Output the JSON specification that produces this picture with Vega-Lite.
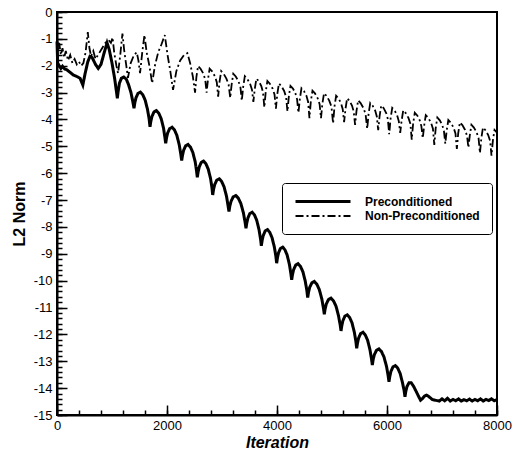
{
"$schema": "https://vega.github.io/schema/vega-lite/v6.json",
"width": 440, "height": 403,
"autosize": {"type": "none"},
"padding": {"left": 57, "top": 12, "right": 18, "bottom": 39},
"background": "white",
"config": {
 "view": {"stroke": "black", "strokeWidth": 2},
 "axis": {"domainColor": "black", "domainWidth": 2, "tickColor": "black", "tickWidth": 1.5, "grid": false, "labelFont": "Liberation Sans", "labelFontSize": 13, "labelColor": "black", "titleFont": "Liberation Sans", "titleFontSize": 16, "titleFontWeight": "bold", "titleColor": "black", "labelFlush": false, "labelOverlap": false},
 "legend": {"strokeColor": "black", "fillColor": "white", "padding": 12, "cornerRadius": 3, "symbolType": "M-1,0H10", "symbolSize": 100, "symbolStrokeColor": "black", "symbolFillColor": "transparent", "labelFont": "Liberation Sans", "labelFontWeight": "bold", "labelFontSize": 12, "labelColor": "black", "labelOffset": 58, "rowPadding": 2}
},
"data": {"values": [
{"iteration":0,"l2norm":-1.1,"series":"Preconditioned"},
{"iteration":12,"l2norm":-1.9,"series":"Preconditioned"},
{"iteration":40,"l2norm":-2.0,"series":"Preconditioned"},
{"iteration":70,"l2norm":-2.1,"series":"Preconditioned"},
{"iteration":100,"l2norm":-2.02,"series":"Preconditioned"},
{"iteration":140,"l2norm":-2.12,"series":"Preconditioned"},
{"iteration":180,"l2norm":-2.15,"series":"Preconditioned"},
{"iteration":240,"l2norm":-2.25,"series":"Preconditioned"},
{"iteration":300,"l2norm":-2.35,"series":"Preconditioned"},
{"iteration":360,"l2norm":-2.4,"series":"Preconditioned"},
{"iteration":420,"l2norm":-2.47,"series":"Preconditioned"},
{"iteration":470,"l2norm":-2.72,"series":"Preconditioned"},
{"iteration":510,"l2norm":-2.3,"series":"Preconditioned"},
{"iteration":560,"l2norm":-1.85,"series":"Preconditioned"},
{"iteration":600,"l2norm":-1.65,"series":"Preconditioned"},
{"iteration":640,"l2norm":-1.7,"series":"Preconditioned"},
{"iteration":700,"l2norm":-1.95,"series":"Preconditioned"},
{"iteration":750,"l2norm":-2.1,"series":"Preconditioned"},
{"iteration":800,"l2norm":-1.95,"series":"Preconditioned"},
{"iteration":860,"l2norm":-1.5,"series":"Preconditioned"},
{"iteration":910,"l2norm":-1.15,"series":"Preconditioned"},
{"iteration":950,"l2norm":-1.4,"series":"Preconditioned"},
{"iteration":1000,"l2norm":-1.9,"series":"Preconditioned"},
{"iteration":1050,"l2norm":-2.5,"series":"Preconditioned"},
{"iteration":1097,"l2norm":-3.21,"series":"Preconditioned"},
{"iteration":1112,"l2norm":-2.95,"series":"Preconditioned"},
{"iteration":1135,"l2norm":-2.65,"series":"Preconditioned"},
{"iteration":1170,"l2norm":-2.47,"series":"Preconditioned"},
{"iteration":1215,"l2norm":-2.42,"series":"Preconditioned"},
{"iteration":1260,"l2norm":-2.5,"series":"Preconditioned"},
{"iteration":1300,"l2norm":-2.7,"series":"Preconditioned"},
{"iteration":1345,"l2norm":-3.0,"series":"Preconditioned"},
{"iteration":1375,"l2norm":-3.3,"series":"Preconditioned"},
{"iteration":1400,"l2norm":-3.58,"series":"Preconditioned"},
{"iteration":1415,"l2norm":-3.38,"series":"Preconditioned"},
{"iteration":1435,"l2norm":-3.2,"series":"Preconditioned"},
{"iteration":1472,"l2norm":-3.03,"series":"Preconditioned"},
{"iteration":1516,"l2norm":-2.98,"series":"Preconditioned"},
{"iteration":1560,"l2norm":-3.08,"series":"Preconditioned"},
{"iteration":1603,"l2norm":-3.28,"series":"Preconditioned"},
{"iteration":1646,"l2norm":-3.63,"series":"Preconditioned"},
{"iteration":1675,"l2norm":-3.98,"series":"Preconditioned"},
{"iteration":1691,"l2norm":-4.27,"series":"Preconditioned"},
{"iteration":1706,"l2norm":-4.07,"series":"Preconditioned"},
{"iteration":1726,"l2norm":-3.89,"series":"Preconditioned"},
{"iteration":1763,"l2norm":-3.72,"series":"Preconditioned"},
{"iteration":1807,"l2norm":-3.67,"series":"Preconditioned"},
{"iteration":1851,"l2norm":-3.77,"series":"Preconditioned"},
{"iteration":1894,"l2norm":-3.97,"series":"Preconditioned"},
{"iteration":1937,"l2norm":-4.32,"series":"Preconditioned"},
{"iteration":1962,"l2norm":-4.67,"series":"Preconditioned"},
{"iteration":1976,"l2norm":-4.89,"series":"Preconditioned"},
{"iteration":1991,"l2norm":-4.69,"series":"Preconditioned"},
{"iteration":2011,"l2norm":-4.51,"series":"Preconditioned"},
{"iteration":2048,"l2norm":-4.34,"series":"Preconditioned"},
{"iteration":2092,"l2norm":-4.29,"series":"Preconditioned"},
{"iteration":2136,"l2norm":-4.39,"series":"Preconditioned"},
{"iteration":2179,"l2norm":-4.59,"series":"Preconditioned"},
{"iteration":2222,"l2norm":-4.94,"series":"Preconditioned"},
{"iteration":2251,"l2norm":-5.29,"series":"Preconditioned"},
{"iteration":2267,"l2norm":-5.53,"series":"Preconditioned"},
{"iteration":2282,"l2norm":-5.33,"series":"Preconditioned"},
{"iteration":2302,"l2norm":-5.15,"series":"Preconditioned"},
{"iteration":2339,"l2norm":-4.98,"series":"Preconditioned"},
{"iteration":2383,"l2norm":-4.93,"series":"Preconditioned"},
{"iteration":2427,"l2norm":-5.03,"series":"Preconditioned"},
{"iteration":2470,"l2norm":-5.23,"series":"Preconditioned"},
{"iteration":2513,"l2norm":-5.58,"series":"Preconditioned"},
{"iteration":2538,"l2norm":-5.93,"series":"Preconditioned"},
{"iteration":2551,"l2norm":-6.15,"series":"Preconditioned"},
{"iteration":2566,"l2norm":-5.95,"series":"Preconditioned"},
{"iteration":2586,"l2norm":-5.77,"series":"Preconditioned"},
{"iteration":2622,"l2norm":-5.6,"series":"Preconditioned"},
{"iteration":2665,"l2norm":-5.55,"series":"Preconditioned"},
{"iteration":2708,"l2norm":-5.65,"series":"Preconditioned"},
{"iteration":2750,"l2norm":-5.85,"series":"Preconditioned"},
{"iteration":2792,"l2norm":-6.2,"series":"Preconditioned"},
{"iteration":2818,"l2norm":-6.55,"series":"Preconditioned"},
{"iteration":2831,"l2norm":-6.81,"series":"Preconditioned"},
{"iteration":2846,"l2norm":-6.61,"series":"Preconditioned"},
{"iteration":2866,"l2norm":-6.43,"series":"Preconditioned"},
{"iteration":2905,"l2norm":-6.26,"series":"Preconditioned"},
{"iteration":2950,"l2norm":-6.21,"series":"Preconditioned"},
{"iteration":2994,"l2norm":-6.31,"series":"Preconditioned"},
{"iteration":3038,"l2norm":-6.51,"series":"Preconditioned"},
{"iteration":3082,"l2norm":-6.86,"series":"Preconditioned"},
{"iteration":3110,"l2norm":-7.21,"series":"Preconditioned"},
{"iteration":3127,"l2norm":-7.43,"series":"Preconditioned"},
{"iteration":3142,"l2norm":-7.23,"series":"Preconditioned"},
{"iteration":3164,"l2norm":-7.05,"series":"Preconditioned"},
{"iteration":3204,"l2norm":-6.88,"series":"Preconditioned"},
{"iteration":3251,"l2norm":-6.83,"series":"Preconditioned"},
{"iteration":3297,"l2norm":-6.93,"series":"Preconditioned"},
{"iteration":3343,"l2norm":-7.13,"series":"Preconditioned"},
{"iteration":3390,"l2norm":-7.48,"series":"Preconditioned"},
{"iteration":3420,"l2norm":-7.83,"series":"Preconditioned"},
{"iteration":3436,"l2norm":-8.05,"series":"Preconditioned"},
{"iteration":3451,"l2norm":-7.85,"series":"Preconditioned"},
{"iteration":3471,"l2norm":-7.67,"series":"Preconditioned"},
{"iteration":3506,"l2norm":-7.5,"series":"Preconditioned"},
{"iteration":3548,"l2norm":-7.45,"series":"Preconditioned"},
{"iteration":3590,"l2norm":-7.55,"series":"Preconditioned"},
{"iteration":3631,"l2norm":-7.75,"series":"Preconditioned"},
{"iteration":3673,"l2norm":-8.1,"series":"Preconditioned"},
{"iteration":3701,"l2norm":-8.45,"series":"Preconditioned"},
{"iteration":3715,"l2norm":-8.7,"series":"Preconditioned"},
{"iteration":3730,"l2norm":-8.5,"series":"Preconditioned"},
{"iteration":3750,"l2norm":-8.32,"series":"Preconditioned"},
{"iteration":3785,"l2norm":-8.15,"series":"Preconditioned"},
{"iteration":3827,"l2norm":-8.1,"series":"Preconditioned"},
{"iteration":3868,"l2norm":-8.2,"series":"Preconditioned"},
{"iteration":3910,"l2norm":-8.4,"series":"Preconditioned"},
{"iteration":3952,"l2norm":-8.75,"series":"Preconditioned"},
{"iteration":3980,"l2norm":-9.1,"series":"Preconditioned"},
{"iteration":3994,"l2norm":-9.35,"series":"Preconditioned"},
{"iteration":4008,"l2norm":-9.15,"series":"Preconditioned"},
{"iteration":4027,"l2norm":-8.97,"series":"Preconditioned"},
{"iteration":4062,"l2norm":-8.8,"series":"Preconditioned"},
{"iteration":4103,"l2norm":-8.75,"series":"Preconditioned"},
{"iteration":4144,"l2norm":-8.85,"series":"Preconditioned"},
{"iteration":4185,"l2norm":-9.05,"series":"Preconditioned"},
{"iteration":4226,"l2norm":-9.4,"series":"Preconditioned"},
{"iteration":4253,"l2norm":-9.75,"series":"Preconditioned"},
{"iteration":4267,"l2norm":-9.97,"series":"Preconditioned"},
{"iteration":4282,"l2norm":-9.77,"series":"Preconditioned"},
{"iteration":4302,"l2norm":-9.59,"series":"Preconditioned"},
{"iteration":4340,"l2norm":-9.42,"series":"Preconditioned"},
{"iteration":4383,"l2norm":-9.37,"series":"Preconditioned"},
{"iteration":4427,"l2norm":-9.47,"series":"Preconditioned"},
{"iteration":4471,"l2norm":-9.67,"series":"Preconditioned"},
{"iteration":4514,"l2norm":-10.02,"series":"Preconditioned"},
{"iteration":4543,"l2norm":-10.37,"series":"Preconditioned"},
{"iteration":4558,"l2norm":-10.63,"series":"Preconditioned"},
{"iteration":4573,"l2norm":-10.43,"series":"Preconditioned"},
{"iteration":4594,"l2norm":-10.25,"series":"Preconditioned"},
{"iteration":4634,"l2norm":-10.08,"series":"Preconditioned"},
{"iteration":4679,"l2norm":-10.03,"series":"Preconditioned"},
{"iteration":4724,"l2norm":-10.13,"series":"Preconditioned"},
{"iteration":4769,"l2norm":-10.33,"series":"Preconditioned"},
{"iteration":4815,"l2norm":-10.68,"series":"Preconditioned"},
{"iteration":4845,"l2norm":-11.03,"series":"Preconditioned"},
{"iteration":4860,"l2norm":-11.25,"series":"Preconditioned"},
{"iteration":4875,"l2norm":-11.05,"series":"Preconditioned"},
{"iteration":4896,"l2norm":-10.87,"series":"Preconditioned"},
{"iteration":4936,"l2norm":-10.7,"series":"Preconditioned"},
{"iteration":4982,"l2norm":-10.65,"series":"Preconditioned"},
{"iteration":5027,"l2norm":-10.75,"series":"Preconditioned"},
{"iteration":5073,"l2norm":-10.95,"series":"Preconditioned"},
{"iteration":5118,"l2norm":-11.3,"series":"Preconditioned"},
{"iteration":5149,"l2norm":-11.65,"series":"Preconditioned"},
{"iteration":5164,"l2norm":-11.87,"series":"Preconditioned"},
{"iteration":5179,"l2norm":-11.67,"series":"Preconditioned"},
{"iteration":5198,"l2norm":-11.49,"series":"Preconditioned"},
{"iteration":5235,"l2norm":-11.32,"series":"Preconditioned"},
{"iteration":5278,"l2norm":-11.27,"series":"Preconditioned"},
{"iteration":5321,"l2norm":-11.37,"series":"Preconditioned"},
{"iteration":5364,"l2norm":-11.57,"series":"Preconditioned"},
{"iteration":5406,"l2norm":-11.92,"series":"Preconditioned"},
{"iteration":5435,"l2norm":-12.27,"series":"Preconditioned"},
{"iteration":5449,"l2norm":-12.52,"series":"Preconditioned"},
{"iteration":5464,"l2norm":-12.32,"series":"Preconditioned"},
{"iteration":5483,"l2norm":-12.14,"series":"Preconditioned"},
{"iteration":5520,"l2norm":-11.97,"series":"Preconditioned"},
{"iteration":5563,"l2norm":-11.92,"series":"Preconditioned"},
{"iteration":5605,"l2norm":-12.02,"series":"Preconditioned"},
{"iteration":5648,"l2norm":-12.22,"series":"Preconditioned"},
{"iteration":5690,"l2norm":-12.57,"series":"Preconditioned"},
{"iteration":5719,"l2norm":-12.92,"series":"Preconditioned"},
{"iteration":5733,"l2norm":-13.14,"series":"Preconditioned"},
{"iteration":5748,"l2norm":-12.94,"series":"Preconditioned"},
{"iteration":5769,"l2norm":-12.76,"series":"Preconditioned"},
{"iteration":5809,"l2norm":-12.59,"series":"Preconditioned"},
{"iteration":5854,"l2norm":-12.54,"series":"Preconditioned"},
{"iteration":5900,"l2norm":-12.64,"series":"Preconditioned"},
{"iteration":5945,"l2norm":-12.84,"series":"Preconditioned"},
{"iteration":5991,"l2norm":-13.19,"series":"Preconditioned"},
{"iteration":6021,"l2norm":-13.54,"series":"Preconditioned"},
{"iteration":6036,"l2norm":-13.76,"series":"Preconditioned"},
{"iteration":6051,"l2norm":-13.56,"series":"Preconditioned"},
{"iteration":6071,"l2norm":-13.38,"series":"Preconditioned"},
{"iteration":6109,"l2norm":-13.21,"series":"Preconditioned"},
{"iteration":6152,"l2norm":-13.16,"series":"Preconditioned"},
{"iteration":6196,"l2norm":-13.26,"series":"Preconditioned"},
{"iteration":6240,"l2norm":-13.46,"series":"Preconditioned"},
{"iteration":6283,"l2norm":-13.81,"series":"Preconditioned"},
{"iteration":6312,"l2norm":-14.1,"series":"Preconditioned"},
{"iteration":6327,"l2norm":-14.32,"series":"Preconditioned"},
{"iteration":6342,"l2norm":-14.12,"series":"Preconditioned"},
{"iteration":6362,"l2norm":-13.95,"series":"Preconditioned"},
{"iteration":6400,"l2norm":-13.8,"series":"Preconditioned"},
{"iteration":6440,"l2norm":-13.8,"series":"Preconditioned"},
{"iteration":6480,"l2norm":-13.92,"series":"Preconditioned"},
{"iteration":6530,"l2norm":-14.12,"series":"Preconditioned"},
{"iteration":6580,"l2norm":-14.33,"series":"Preconditioned"},
{"iteration":6610,"l2norm":-14.45,"series":"Preconditioned"},
{"iteration":6640,"l2norm":-14.4,"series":"Preconditioned"},
{"iteration":6680,"l2norm":-14.3,"series":"Preconditioned"},
{"iteration":6720,"l2norm":-14.26,"series":"Preconditioned"},
{"iteration":6770,"l2norm":-14.33,"series":"Preconditioned"},
{"iteration":6820,"l2norm":-14.42,"series":"Preconditioned"},
{"iteration":6880,"l2norm":-14.45,"series":"Preconditioned"},
{"iteration":6950,"l2norm":-14.48,"series":"Preconditioned"},
{"iteration":7000,"l2norm":-14.4,"series":"Preconditioned"},
{"iteration":7050,"l2norm":-14.47,"series":"Preconditioned"},
{"iteration":7100,"l2norm":-14.38,"series":"Preconditioned"},
{"iteration":7150,"l2norm":-14.48,"series":"Preconditioned"},
{"iteration":7200,"l2norm":-14.42,"series":"Preconditioned"},
{"iteration":7250,"l2norm":-14.47,"series":"Preconditioned"},
{"iteration":7300,"l2norm":-14.4,"series":"Preconditioned"},
{"iteration":7350,"l2norm":-14.48,"series":"Preconditioned"},
{"iteration":7400,"l2norm":-14.43,"series":"Preconditioned"},
{"iteration":7450,"l2norm":-14.47,"series":"Preconditioned"},
{"iteration":7500,"l2norm":-14.41,"series":"Preconditioned"},
{"iteration":7550,"l2norm":-14.48,"series":"Preconditioned"},
{"iteration":7600,"l2norm":-14.42,"series":"Preconditioned"},
{"iteration":7650,"l2norm":-14.47,"series":"Preconditioned"},
{"iteration":7700,"l2norm":-14.4,"series":"Preconditioned"},
{"iteration":7750,"l2norm":-14.48,"series":"Preconditioned"},
{"iteration":7800,"l2norm":-14.42,"series":"Preconditioned"},
{"iteration":7850,"l2norm":-14.46,"series":"Preconditioned"},
{"iteration":7900,"l2norm":-14.4,"series":"Preconditioned"},
{"iteration":7950,"l2norm":-14.47,"series":"Preconditioned"},
{"iteration":8000,"l2norm":-14.43,"series":"Preconditioned"},
{"iteration":0,"l2norm":-1.0,"series":"Non-Preconditioned"},
{"iteration":20,"l2norm":-1.4,"series":"Non-Preconditioned"},
{"iteration":40,"l2norm":-1.15,"series":"Non-Preconditioned"},
{"iteration":70,"l2norm":-1.6,"series":"Non-Preconditioned"},
{"iteration":100,"l2norm":-1.35,"series":"Non-Preconditioned"},
{"iteration":130,"l2norm":-1.7,"series":"Non-Preconditioned"},
{"iteration":160,"l2norm":-1.45,"series":"Non-Preconditioned"},
{"iteration":200,"l2norm":-1.8,"series":"Non-Preconditioned"},
{"iteration":240,"l2norm":-1.6,"series":"Non-Preconditioned"},
{"iteration":280,"l2norm":-1.9,"series":"Non-Preconditioned"},
{"iteration":320,"l2norm":-1.75,"series":"Non-Preconditioned"},
{"iteration":360,"l2norm":-1.95,"series":"Non-Preconditioned"},
{"iteration":400,"l2norm":-1.85,"series":"Non-Preconditioned"},
{"iteration":440,"l2norm":-2.0,"series":"Non-Preconditioned"},
{"iteration":480,"l2norm":-1.9,"series":"Non-Preconditioned"},
{"iteration":520,"l2norm":-1.5,"series":"Non-Preconditioned"},
{"iteration":560,"l2norm":-0.75,"series":"Non-Preconditioned"},
{"iteration":590,"l2norm":-1.35,"series":"Non-Preconditioned"},
{"iteration":620,"l2norm":-1.65,"series":"Non-Preconditioned"},
{"iteration":660,"l2norm":-1.45,"series":"Non-Preconditioned"},
{"iteration":700,"l2norm":-1.75,"series":"Non-Preconditioned"},
{"iteration":760,"l2norm":-1.55,"series":"Non-Preconditioned"},
{"iteration":820,"l2norm":-1.35,"series":"Non-Preconditioned"},
{"iteration":880,"l2norm":-1.15,"series":"Non-Preconditioned"},
{"iteration":940,"l2norm":-1.05,"series":"Non-Preconditioned"},
{"iteration":980,"l2norm":-1.15,"series":"Non-Preconditioned"},
{"iteration":1010,"l2norm":-0.95,"series":"Non-Preconditioned"},
{"iteration":1040,"l2norm":-1.5,"series":"Non-Preconditioned"},
{"iteration":1080,"l2norm":-2.0,"series":"Non-Preconditioned"},
{"iteration":1110,"l2norm":-2.28,"series":"Non-Preconditioned"},
{"iteration":1150,"l2norm":-1.6,"series":"Non-Preconditioned"},
{"iteration":1190,"l2norm":-0.8,"series":"Non-Preconditioned"},
{"iteration":1220,"l2norm":-1.4,"series":"Non-Preconditioned"},
{"iteration":1260,"l2norm":-2.0,"series":"Non-Preconditioned"},
{"iteration":1290,"l2norm":-2.45,"series":"Non-Preconditioned"},
{"iteration":1340,"l2norm":-1.9,"series":"Non-Preconditioned"},
{"iteration":1400,"l2norm":-1.6,"series":"Non-Preconditioned"},
{"iteration":1450,"l2norm":-1.5,"series":"Non-Preconditioned"},
{"iteration":1480,"l2norm":-1.8,"series":"Non-Preconditioned"},
{"iteration":1510,"l2norm":-2.28,"series":"Non-Preconditioned"},
{"iteration":1550,"l2norm":-1.5,"series":"Non-Preconditioned"},
{"iteration":1590,"l2norm":-0.86,"series":"Non-Preconditioned"},
{"iteration":1630,"l2norm":-1.5,"series":"Non-Preconditioned"},
{"iteration":1680,"l2norm":-2.0,"series":"Non-Preconditioned"},
{"iteration":1730,"l2norm":-2.65,"series":"Non-Preconditioned"},
{"iteration":1780,"l2norm":-2.0,"series":"Non-Preconditioned"},
{"iteration":1840,"l2norm":-1.5,"series":"Non-Preconditioned"},
{"iteration":1900,"l2norm":-1.2,"series":"Non-Preconditioned"},
{"iteration":1960,"l2norm":-0.86,"series":"Non-Preconditioned"},
{"iteration":2010,"l2norm":-1.6,"series":"Non-Preconditioned"},
{"iteration":2060,"l2norm":-2.2,"series":"Non-Preconditioned"},
{"iteration":2110,"l2norm":-2.9,"series":"Non-Preconditioned"},
{"iteration":2170,"l2norm":-2.2,"series":"Non-Preconditioned"},
{"iteration":2240,"l2norm":-1.8,"series":"Non-Preconditioned"},
{"iteration":2310,"l2norm":-1.6,"series":"Non-Preconditioned"},
{"iteration":2370,"l2norm":-1.53,"series":"Non-Preconditioned"},
{"iteration":2420,"l2norm":-1.9,"series":"Non-Preconditioned"},
{"iteration":2470,"l2norm":-2.4,"series":"Non-Preconditioned"},
{"iteration":2510,"l2norm":-3.0,"series":"Non-Preconditioned"},
{"iteration":2535,"l2norm":-2.41,"series":"Non-Preconditioned"},
{"iteration":2565,"l2norm":-2.01,"series":"Non-Preconditioned"},
{"iteration":2610,"l2norm":-2.11,"series":"Non-Preconditioned"},
{"iteration":2660,"l2norm":-2.29,"series":"Non-Preconditioned"},
{"iteration":2695,"l2norm":-2.51,"series":"Non-Preconditioned"},
{"iteration":2720,"l2norm":-3.0,"series":"Non-Preconditioned"},
{"iteration":2745,"l2norm":-2.51,"series":"Non-Preconditioned"},
{"iteration":2775,"l2norm":-2.11,"series":"Non-Preconditioned"},
{"iteration":2820,"l2norm":-2.21,"series":"Non-Preconditioned"},
{"iteration":2870,"l2norm":-2.39,"series":"Non-Preconditioned"},
{"iteration":2905,"l2norm":-2.61,"series":"Non-Preconditioned"},
{"iteration":2930,"l2norm":-3.15,"series":"Non-Preconditioned"},
{"iteration":2955,"l2norm":-2.6,"series":"Non-Preconditioned"},
{"iteration":2985,"l2norm":-2.2,"series":"Non-Preconditioned"},
{"iteration":3030,"l2norm":-2.3,"series":"Non-Preconditioned"},
{"iteration":3080,"l2norm":-2.48,"series":"Non-Preconditioned"},
{"iteration":3120,"l2norm":-2.7,"series":"Non-Preconditioned"},
{"iteration":3150,"l2norm":-3.2,"series":"Non-Preconditioned"},
{"iteration":3175,"l2norm":-2.7,"series":"Non-Preconditioned"},
{"iteration":3205,"l2norm":-2.3,"series":"Non-Preconditioned"},
{"iteration":3250,"l2norm":-2.4,"series":"Non-Preconditioned"},
{"iteration":3300,"l2norm":-2.58,"series":"Non-Preconditioned"},
{"iteration":3335,"l2norm":-2.8,"series":"Non-Preconditioned"},
{"iteration":3360,"l2norm":-3.3,"series":"Non-Preconditioned"},
{"iteration":3385,"l2norm":-2.79,"series":"Non-Preconditioned"},
{"iteration":3415,"l2norm":-2.39,"series":"Non-Preconditioned"},
{"iteration":3460,"l2norm":-2.49,"series":"Non-Preconditioned"},
{"iteration":3510,"l2norm":-2.67,"series":"Non-Preconditioned"},
{"iteration":3545,"l2norm":-2.89,"series":"Non-Preconditioned"},
{"iteration":3570,"l2norm":-3.35,"series":"Non-Preconditioned"},
{"iteration":3595,"l2norm":-2.88,"series":"Non-Preconditioned"},
{"iteration":3625,"l2norm":-2.48,"series":"Non-Preconditioned"},
{"iteration":3670,"l2norm":-2.58,"series":"Non-Preconditioned"},
{"iteration":3715,"l2norm":-2.76,"series":"Non-Preconditioned"},
{"iteration":3745,"l2norm":-2.98,"series":"Non-Preconditioned"},
{"iteration":3770,"l2norm":-3.55,"series":"Non-Preconditioned"},
{"iteration":3795,"l2norm":-2.97,"series":"Non-Preconditioned"},
{"iteration":3825,"l2norm":-2.57,"series":"Non-Preconditioned"},
{"iteration":3870,"l2norm":-2.67,"series":"Non-Preconditioned"},
{"iteration":3920,"l2norm":-2.85,"series":"Non-Preconditioned"},
{"iteration":3955,"l2norm":-3.07,"series":"Non-Preconditioned"},
{"iteration":3980,"l2norm":-3.6,"series":"Non-Preconditioned"},
{"iteration":4005,"l2norm":-3.06,"series":"Non-Preconditioned"},
{"iteration":4035,"l2norm":-2.66,"series":"Non-Preconditioned"},
{"iteration":4080,"l2norm":-2.76,"series":"Non-Preconditioned"},
{"iteration":4130,"l2norm":-2.94,"series":"Non-Preconditioned"},
{"iteration":4165,"l2norm":-3.16,"series":"Non-Preconditioned"},
{"iteration":4190,"l2norm":-3.7,"series":"Non-Preconditioned"},
{"iteration":4215,"l2norm":-3.15,"series":"Non-Preconditioned"},
{"iteration":4245,"l2norm":-2.75,"series":"Non-Preconditioned"},
{"iteration":4290,"l2norm":-2.85,"series":"Non-Preconditioned"},
{"iteration":4335,"l2norm":-3.03,"series":"Non-Preconditioned"},
{"iteration":4365,"l2norm":-3.25,"series":"Non-Preconditioned"},
{"iteration":4390,"l2norm":-3.75,"series":"Non-Preconditioned"},
{"iteration":4415,"l2norm":-3.24,"series":"Non-Preconditioned"},
{"iteration":4445,"l2norm":-2.84,"series":"Non-Preconditioned"},
{"iteration":4490,"l2norm":-2.94,"series":"Non-Preconditioned"},
{"iteration":4535,"l2norm":-3.12,"series":"Non-Preconditioned"},
{"iteration":4565,"l2norm":-3.34,"series":"Non-Preconditioned"},
{"iteration":4590,"l2norm":-3.95,"series":"Non-Preconditioned"},
{"iteration":4615,"l2norm":-3.33,"series":"Non-Preconditioned"},
{"iteration":4645,"l2norm":-2.93,"series":"Non-Preconditioned"},
{"iteration":4690,"l2norm":-3.03,"series":"Non-Preconditioned"},
{"iteration":4740,"l2norm":-3.21,"series":"Non-Preconditioned"},
{"iteration":4775,"l2norm":-3.43,"series":"Non-Preconditioned"},
{"iteration":4800,"l2norm":-3.95,"series":"Non-Preconditioned"},
{"iteration":4825,"l2norm":-3.42,"series":"Non-Preconditioned"},
{"iteration":4855,"l2norm":-3.02,"series":"Non-Preconditioned"},
{"iteration":4900,"l2norm":-3.12,"series":"Non-Preconditioned"},
{"iteration":4950,"l2norm":-3.3,"series":"Non-Preconditioned"},
{"iteration":4990,"l2norm":-3.52,"series":"Non-Preconditioned"},
{"iteration":5020,"l2norm":-4.15,"series":"Non-Preconditioned"},
{"iteration":5045,"l2norm":-3.52,"series":"Non-Preconditioned"},
{"iteration":5075,"l2norm":-3.12,"series":"Non-Preconditioned"},
{"iteration":5120,"l2norm":-3.22,"series":"Non-Preconditioned"},
{"iteration":5165,"l2norm":-3.4,"series":"Non-Preconditioned"},
{"iteration":5195,"l2norm":-3.62,"series":"Non-Preconditioned"},
{"iteration":5220,"l2norm":-4.1,"series":"Non-Preconditioned"},
{"iteration":5245,"l2norm":-3.61,"series":"Non-Preconditioned"},
{"iteration":5275,"l2norm":-3.21,"series":"Non-Preconditioned"},
{"iteration":5320,"l2norm":-3.31,"series":"Non-Preconditioned"},
{"iteration":5365,"l2norm":-3.49,"series":"Non-Preconditioned"},
{"iteration":5395,"l2norm":-3.71,"series":"Non-Preconditioned"},
{"iteration":5420,"l2norm":-4.2,"series":"Non-Preconditioned"},
{"iteration":5445,"l2norm":-3.69,"series":"Non-Preconditioned"},
{"iteration":5475,"l2norm":-3.29,"series":"Non-Preconditioned"},
{"iteration":5520,"l2norm":-3.39,"series":"Non-Preconditioned"},
{"iteration":5570,"l2norm":-3.57,"series":"Non-Preconditioned"},
{"iteration":5610,"l2norm":-3.79,"series":"Non-Preconditioned"},
{"iteration":5640,"l2norm":-4.35,"series":"Non-Preconditioned"},
{"iteration":5665,"l2norm":-3.79,"series":"Non-Preconditioned"},
{"iteration":5695,"l2norm":-3.39,"series":"Non-Preconditioned"},
{"iteration":5740,"l2norm":-3.49,"series":"Non-Preconditioned"},
{"iteration":5785,"l2norm":-3.67,"series":"Non-Preconditioned"},
{"iteration":5815,"l2norm":-3.89,"series":"Non-Preconditioned"},
{"iteration":5840,"l2norm":-4.4,"series":"Non-Preconditioned"},
{"iteration":5865,"l2norm":-3.88,"series":"Non-Preconditioned"},
{"iteration":5895,"l2norm":-3.48,"series":"Non-Preconditioned"},
{"iteration":5940,"l2norm":-3.58,"series":"Non-Preconditioned"},
{"iteration":5985,"l2norm":-3.76,"series":"Non-Preconditioned"},
{"iteration":6015,"l2norm":-3.98,"series":"Non-Preconditioned"},
{"iteration":6040,"l2norm":-4.55,"series":"Non-Preconditioned"},
{"iteration":6065,"l2norm":-3.97,"series":"Non-Preconditioned"},
{"iteration":6095,"l2norm":-3.57,"series":"Non-Preconditioned"},
{"iteration":6140,"l2norm":-3.67,"series":"Non-Preconditioned"},
{"iteration":6185,"l2norm":-3.85,"series":"Non-Preconditioned"},
{"iteration":6215,"l2norm":-4.07,"series":"Non-Preconditioned"},
{"iteration":6240,"l2norm":-4.5,"series":"Non-Preconditioned"},
{"iteration":6265,"l2norm":-4.06,"series":"Non-Preconditioned"},
{"iteration":6295,"l2norm":-3.66,"series":"Non-Preconditioned"},
{"iteration":6340,"l2norm":-3.76,"series":"Non-Preconditioned"},
{"iteration":6390,"l2norm":-3.94,"series":"Non-Preconditioned"},
{"iteration":6425,"l2norm":-4.16,"series":"Non-Preconditioned"},
{"iteration":6450,"l2norm":-4.75,"series":"Non-Preconditioned"},
{"iteration":6475,"l2norm":-4.15,"series":"Non-Preconditioned"},
{"iteration":6505,"l2norm":-3.75,"series":"Non-Preconditioned"},
{"iteration":6550,"l2norm":-3.85,"series":"Non-Preconditioned"},
{"iteration":6595,"l2norm":-4.03,"series":"Non-Preconditioned"},
{"iteration":6625,"l2norm":-4.25,"series":"Non-Preconditioned"},
{"iteration":6650,"l2norm":-4.7,"series":"Non-Preconditioned"},
{"iteration":6675,"l2norm":-4.24,"series":"Non-Preconditioned"},
{"iteration":6705,"l2norm":-3.84,"series":"Non-Preconditioned"},
{"iteration":6750,"l2norm":-3.94,"series":"Non-Preconditioned"},
{"iteration":6800,"l2norm":-4.12,"series":"Non-Preconditioned"},
{"iteration":6835,"l2norm":-4.34,"series":"Non-Preconditioned"},
{"iteration":6860,"l2norm":-4.95,"series":"Non-Preconditioned"},
{"iteration":6885,"l2norm":-4.33,"series":"Non-Preconditioned"},
{"iteration":6915,"l2norm":-3.93,"series":"Non-Preconditioned"},
{"iteration":6960,"l2norm":-4.03,"series":"Non-Preconditioned"},
{"iteration":7005,"l2norm":-4.21,"series":"Non-Preconditioned"},
{"iteration":7035,"l2norm":-4.43,"series":"Non-Preconditioned"},
{"iteration":7060,"l2norm":-4.9,"series":"Non-Preconditioned"},
{"iteration":7085,"l2norm":-4.42,"series":"Non-Preconditioned"},
{"iteration":7115,"l2norm":-4.02,"series":"Non-Preconditioned"},
{"iteration":7160,"l2norm":-4.12,"series":"Non-Preconditioned"},
{"iteration":7210,"l2norm":-4.3,"series":"Non-Preconditioned"},
{"iteration":7245,"l2norm":-4.52,"series":"Non-Preconditioned"},
{"iteration":7270,"l2norm":-5.1,"series":"Non-Preconditioned"},
{"iteration":7295,"l2norm":-4.51,"series":"Non-Preconditioned"},
{"iteration":7325,"l2norm":-4.11,"series":"Non-Preconditioned"},
{"iteration":7370,"l2norm":-4.21,"series":"Non-Preconditioned"},
{"iteration":7420,"l2norm":-4.39,"series":"Non-Preconditioned"},
{"iteration":7455,"l2norm":-4.61,"series":"Non-Preconditioned"},
{"iteration":7480,"l2norm":-5.05,"series":"Non-Preconditioned"},
{"iteration":7505,"l2norm":-4.6,"series":"Non-Preconditioned"},
{"iteration":7535,"l2norm":-4.2,"series":"Non-Preconditioned"},
{"iteration":7580,"l2norm":-4.3,"series":"Non-Preconditioned"},
{"iteration":7630,"l2norm":-4.48,"series":"Non-Preconditioned"},
{"iteration":7665,"l2norm":-4.7,"series":"Non-Preconditioned"},
{"iteration":7690,"l2norm":-5.25,"series":"Non-Preconditioned"},
{"iteration":7715,"l2norm":-4.7,"series":"Non-Preconditioned"},
{"iteration":7745,"l2norm":-4.3,"series":"Non-Preconditioned"},
{"iteration":7790,"l2norm":-4.4,"series":"Non-Preconditioned"},
{"iteration":7840,"l2norm":-4.58,"series":"Non-Preconditioned"},
{"iteration":7875,"l2norm":-4.8,"series":"Non-Preconditioned"},
{"iteration":7900,"l2norm":-5.35,"series":"Non-Preconditioned"},
{"iteration":7925,"l2norm":-4.79,"series":"Non-Preconditioned"},
{"iteration":7955,"l2norm":-4.39,"series":"Non-Preconditioned"},
{"iteration":8000,"l2norm":-4.49,"series":"Non-Preconditioned"}
]},
"layer": [
 {
  "mark": {"type": "line", "opacity": 0},
  "encoding": {
   "x": {"field": "iteration", "type": "quantitative", "scale": {"domain": [0, 8000], "nice": false},
    "axis": {"orient": "bottom", "values": [0,400,800,1200,1600,2000,2400,2800,3200,3600,4000,4400,4800,5200,5600,6000,6400,6800,7200,7600,8000], "labels": false, "domain": false, "title": null, "tickSize": -5}},
   "y": {"field": "l2norm", "type": "quantitative", "scale": {"domain": [-15, 0], "nice": false},
    "axis": {"orient": "left", "values": [-15,-14.8,-14.6,-14.4,-14.2,-14,-13.8,-13.6,-13.4,-13.2,-13,-12.8,-12.6,-12.4,-12.2,-12,-11.8,-11.6,-11.4,-11.2,-11,-10.8,-10.6,-10.4,-10.2,-10,-9.8,-9.6,-9.4,-9.2,-9,-8.8,-8.6,-8.4,-8.2,-8,-7.8,-7.6,-7.4,-7.2,-7,-6.8,-6.6,-6.4,-6.2,-6,-5.8,-5.6,-5.4,-5.2,-5,-4.8,-4.6,-4.4,-4.2,-4,-3.8,-3.6,-3.4,-3.2,-3,-2.8,-2.6,-2.4,-2.2,-2,-1.8,-1.6,-1.4,-1.2,-1,-0.8,-0.6,-0.4,-0.2,0], "labels": false, "domain": false, "title": null, "tickSize": -5}},
   "detail": {"field": "series"}
  }
 },
 {
  "mark": {"type": "line", "color": "black"},
  "encoding": {
   "x": {"field": "iteration", "type": "quantitative", "scale": {"domain": [0, 8000], "nice": false},
    "axis": {"orient": "bottom", "values": [0, 2000, 4000, 6000, 8000], "labelExpr": "'' + datum.value", "tickSize": -10, "labelPadding": 14, "title": "Iteration", "titleFontStyle": "italic", "titlePadding": 2}},
   "y": {"field": "l2norm", "type": "quantitative", "scale": {"domain": [-15, 0], "nice": false},
    "axis": {"orient": "left", "values": [-15,-14,-13,-12,-11,-10,-9,-8,-7,-6,-5,-4,-3,-2,-1,0], "labelExpr": "'' + datum.value", "tickSize": -10, "labelPadding": 15, "title": "L2 Norm", "titlePadding": 6}},
   "strokeDash": {"field": "series", "type": "nominal", "scale": {"domain": ["Preconditioned", "Non-Preconditioned"], "range": [[1, 0], [8, 3, 2, 3]]}, "title": null, "legend": {"orient": "none", "legendX": 225, "legendY": 171}},
   "strokeWidth": {"field": "series", "type": "nominal", "scale": {"domain": ["Preconditioned", "Non-Preconditioned"], "range": [3, 1.8]}, "title": null, "legend": {"orient": "none", "legendX": 225, "legendY": 171}}
  }
 }
],
"resolve": {"axis": {"x": "independent", "y": "independent"}}
}
